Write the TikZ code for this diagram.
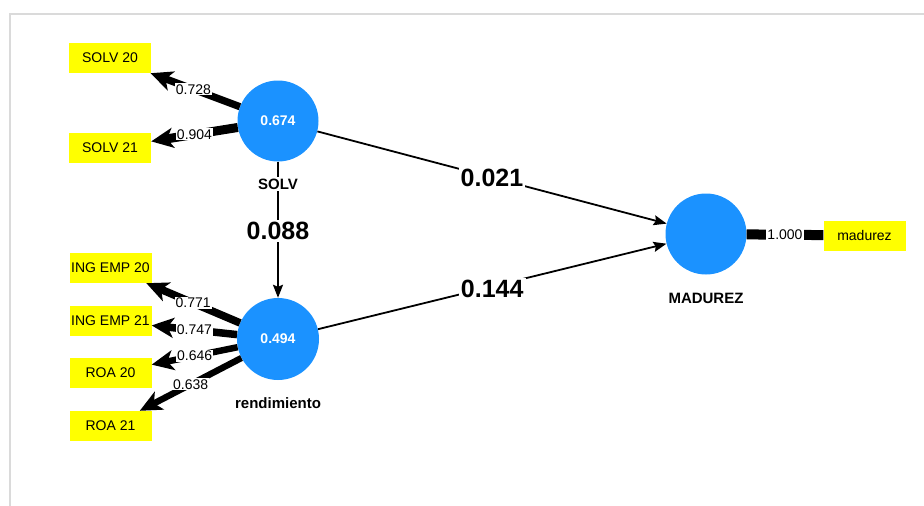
\documentclass[tikz,border=0pt]{standalone}
\usepackage{fontspec}
\setmainfont{Liberation Sans}
\usetikzlibrary{arrows.meta}
\definecolor{lvblue}{RGB}{27,146,255}
\definecolor{mvyellow}{RGB}{255,255,0}
\definecolor{framegray}{RGB}{218,218,218}
\tikzset{
  indicator/.style={fill=mvyellow, minimum width=82pt, minimum height=30pt,
    inner sep=0pt, font=\fontsize{14}{16}\selectfont},
  latent/.style={circle, fill=lvblue, minimum size=#1, inner sep=0pt,
    text=white, font=\bfseries\fontsize{14}{16}\selectfont},
  lvname/.style={font=\bfseries\fontsize{15}{17}\selectfont, inner sep=1.5pt},
  loading/.style={line width=#1, -{Stealth[length=22pt,width=20pt,inset=6pt]}},
  loadlabel/.style={fill=white, inner sep=1pt, font=\fontsize{14}{16}\selectfont},
  pathcoef/.style={line width=1.8pt, -{Stealth[length=13pt,width=10pt,inset=2pt]}},
  coeflabel/.style={fill=white, inner sep=2pt, font=\bfseries\fontsize{25}{28}\selectfont}
}
\begin{document}
\begin{tikzpicture}[x=1pt,y=-1pt]
  \useasboundingbox (0,0) rectangle (924,506);
  % panel frame
  \draw[framegray, line width=2pt] (924,14) -- (10,14) -- (10,506);

  % indicators
  \node[indicator] (s20) at (110,58) {SOLV 20};
  \node[indicator] (s21) at (110,148) {SOLV 21};
  \node[indicator] (i20) at (110.5,268) {ING EMP 20};
  \node[indicator] (i21) at (110.5,321) {ING EMP 21};
  \node[indicator] (r20) at (110.5,373) {ROA 20};
  \node[indicator] (r21) at (110.5,426) {ROA 21};
  \node[indicator] (mad) at (864.5,235.5) {madurez};

  % latent variables
  \node[latent=81pt] (solv) at (278,121) {0.674};
  \node[latent=82pt] (rend) at (278,339) {0.494};
  \node[latent=81pt] (madc) at (706,234) {};

  % outer loadings
  \draw[loading=7.3pt] (solv) -- (s20) node[loadlabel, pos=0.52] {0.728};
  \draw[loading=9pt] (solv) -- (s21) node[loadlabel, pos=0.5] {0.904};
  \draw[loading=7.7pt] (rend) -- (i20) node[loadlabel, pos=0.5] {0.771};
  \draw[loading=7.5pt] (rend) -- (i21) node[loadlabel, pos=0.5] {0.747};
  \draw[loading=6.5pt] (rend) -- (r20) node[loadlabel, pos=0.5] {0.646};
  \draw[loading=6.4pt] (rend) -- (r21) node[loadlabel, pos=0.5] {0.638};
  \draw[line width=10pt] (madc) -- (mad) node[loadlabel, pos=0.5] {1.000};

  % inner model
  \draw[pathcoef] (solv) -- (madc) node[coeflabel, pos=0.5] {0.021};
  \draw[pathcoef] (rend) -- (madc) node[coeflabel, pos=0.5, yshift=-2pt] {0.144};
  \draw[pathcoef] (solv) -- (rend) node[coeflabel, pos=0.51] {0.088};

  % latent variable names
  \node[lvname, fill=white] (solvname) at (278,184) {SOLV};
  \node[lvname] (rendname) at (278,403) {rendimiento};
  \node[lvname] (madname) at (706,298) {MADUREZ};
\end{tikzpicture}
\end{document}
